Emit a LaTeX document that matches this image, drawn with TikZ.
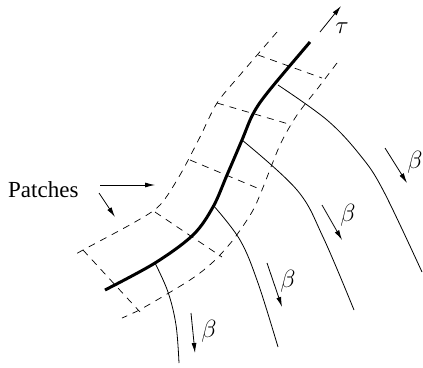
\documentclass[tikz,border=0pt]{standalone}
\usepackage{fontspec}
\setmainfont{Liberation Serif}
\usetikzlibrary{arrows.meta}
\begin{document}
\begin{tikzpicture}[x=1pt,y=-1pt,
  thin line/.style={line width=0.8pt},
  patch/.style={line width=0.7pt,dash pattern=on 7pt off 6pt},
  thick curve/.style={line width=3pt},
  pointer/.style={line width=0.8pt,-{Latex[length=10pt,width=5pt]}},
  lbl/.style={inner sep=0pt,font=\fontsize{23}{27}\selectfont}]
\useasboundingbox (0,0) rectangle (423,367);
% base points on the thick curve
\coordinate (s1) at (155,263);
\coordinate (s2) at (213,205);
\coordinate (s3) at (242,140);
\coordinate (s4) at (278,85);
% thick curve
\draw[thick curve] plot[smooth,tension=0.55] coordinates {(105,290) (155,263) (193,235) (213,207) (227,175) (242,140) (253,114) (268,92) (310,42)};
% tau arrow
\coordinate (tauS) at (320,32);
\coordinate (tauE) at (341,6);
\draw[pointer] (tauS) -- (tauE);
\node[lbl] (tau) at (342,28) {$\tau$};
% dashed patch strip
\draw[patch] plot[smooth,tension=0.5] coordinates {(277,32) (240,75) (217,103) (200,137) (180,175) (160,205) (135,222) (83,250) (73,256)};
\draw[patch] plot[smooth,tension=0.5] coordinates {(337,63) (318,88) (297,115) (280,145) (262,190) (252,212) (233,240) (213,262) (190,280) (143,308) (122,318)};
\draw[patch] (258,55) -- (322,78);
\draw[patch] (217,103) -- (292,125);
\draw[patch] (190,160) -- (262,190);
\draw[patch] (155,212) -- (222,257);
\draw[patch] (83,250) -- (140,312);
% thin curves
\draw[thin line] plot[smooth,tension=0.6] coordinates {(s1) (168,292) (176,325) (179,363)};
\draw[thin line] plot[smooth,tension=0.6] coordinates {(s2) (240,240) (258,283) (278,347)};
\draw[thin line] plot[smooth,tension=0.6] coordinates {(s3) (297,190) (323,237) (354,310)};
\draw[thin line] plot[smooth,tension=0.6] coordinates {(s4) (327,120) (360,155) (383,190) (422,272)};
% beta arrows
\coordinate (a4s) at (385,148); \coordinate (a4e) at (407,183);
\coordinate (a3s) at (322,205); \coordinate (a3e) at (342,240);
\coordinate (a2s) at (267,263); \coordinate (a2e) at (282,307);
\coordinate (a1s) at (191,313); \coordinate (a1e) at (195,353);
\draw[pointer] (a4s) -- (a4e);
\draw[pointer] (a3s) -- (a3e);
\draw[pointer] (a2s) -- (a2e);
\draw[pointer] (a1s) -- (a1e);
\node[lbl] (b4) at (415,162) {$\beta$};
\node[lbl] (b3) at (348,215) {$\beta$};
\node[lbl] (b2) at (288,281) {$\beta$};
\node[lbl] (b1) at (209,331) {$\beta$};
% Patches label
\node[lbl,anchor=base west] (patches) at (8,197) {Patches};
\coordinate (p1s) at (100,185); \coordinate (p1e) at (155,185);
\coordinate (p2s) at (99,193); \coordinate (p2e) at (115,217);
\draw[pointer] (p1s) -- (p1e);
\draw[pointer] (p2s) -- (p2e);
\end{tikzpicture}
\end{document}
